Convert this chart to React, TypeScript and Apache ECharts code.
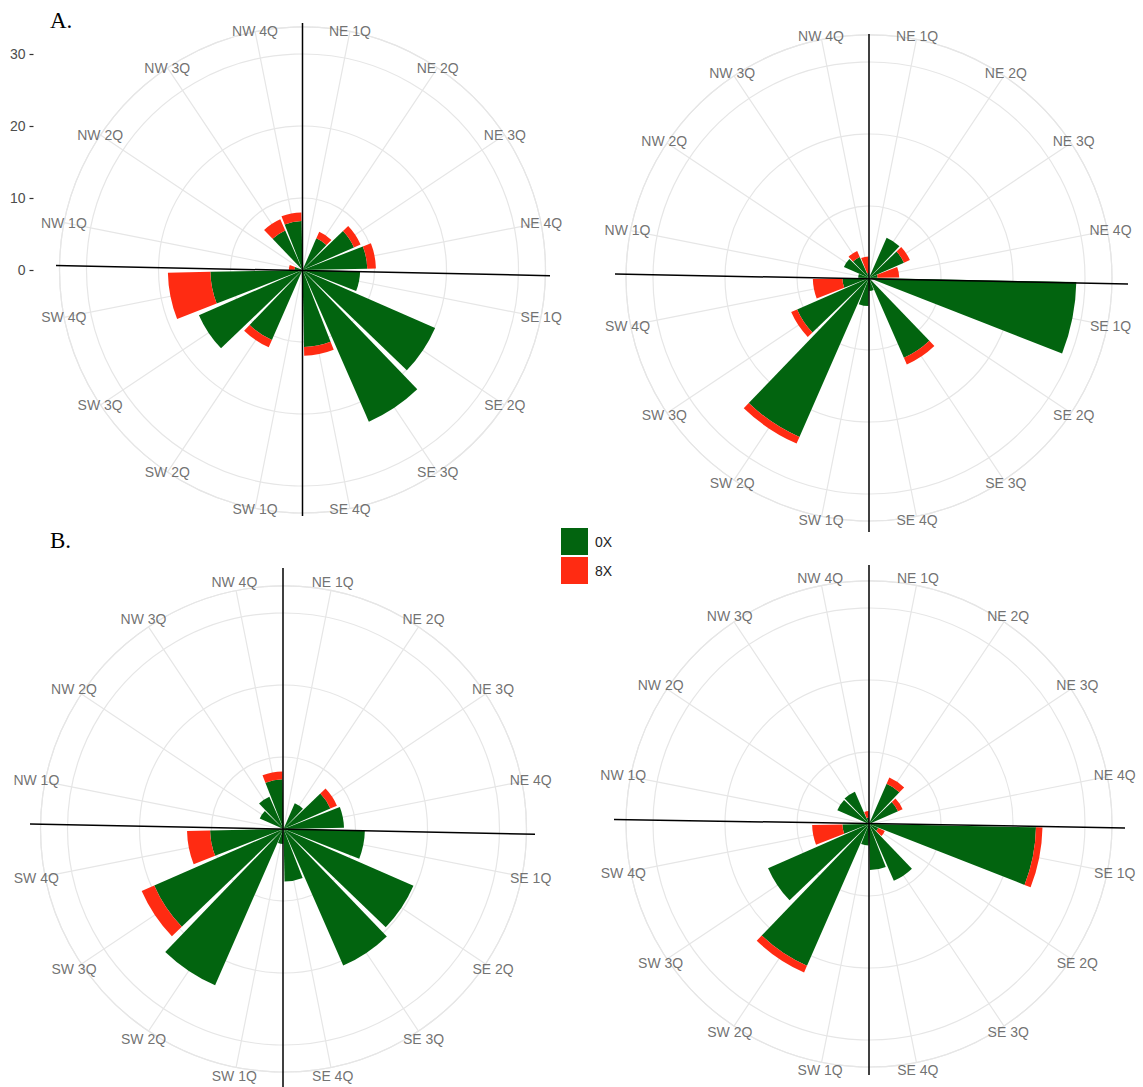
import { useEffect, useRef } from 'react';
import * as echarts from 'echarts';

// Sixteen direction/quarter sectors, clockwise from north
const CATEGORIES = [
  'NE 1Q', 'NE 2Q', 'NE 3Q', 'NE 4Q',
  'SE 1Q', 'SE 2Q', 'SE 3Q', 'SE 4Q',
  'SW 1Q', 'SW 2Q', 'SW 3Q', 'SW 4Q',
  'NW 1Q', 'NW 2Q', 'NW 3Q', 'NW 4Q',
];
const GROUPS = ['0X', '8X'];

// Radial scale (counts)
const R_MAX = 30;
const R_STEP = 10;

// Panel A, left rose
const A1_0X = [0, 4.8, 7.8, 9.0, 8.0, 20.1, 23.0, 10.7, 0, 10.6, 15.7, 12.8, 1.1, 0, 6.0, 6.8];
const A1_8X = [0, 1.0, 1.0, 1.2, 0, 0, 0, 1.2, 0, 1.1, 0, 5.9, 0.8, 0, 1.7, 1.2];
// Panel A, right rose
const A2_0X = [0, 6.1, 5.3, 1.2, 28.8, 0, 12.1, 1.8, 3.9, 24.1, 10.9, 3.7, 1.5, 3.8, 3.2, 0.7];
const A2_8X = [0, 0, 0.9, 3.0, 0, 0, 1.0, 0, 0, 1.0, 0.9, 4.1, 0, 0, 0.9, 2.3];
// Panel B, left rose
const B1_0X = [0, 3.9, 7.1, 8.4, 11.3, 19.7, 20.7, 7.3, 2.1, 23.7, 19.6, 10.2, 0, 3.6, 4.9, 6.9];
const B1_8X = [0, 0, 1.0, 0, 0, 0, 0, 0, 0, 0, 1.9, 3.2, 0, 0, 0, 1.1];
// Panel B, right rose
const B2_0X = [0, 6.1, 4.4, 0, 23.2, 1.4, 8.6, 6.4, 3.0, 21.5, 15.3, 3.7, 0, 4.8, 4.9, 0.9];
const B2_8X = [0, 0.95, 0.7, 0, 0.9, 1.0, 0, 0, 0, 1.0, 0, 4.2, 0, 0, 0, 0.9];

const GREEN = '#02640f';
const RED = '#ff2b12';
const GRID = '#e6e6e6';
const TEXT = '#4d4d4d';
const SANS = '"Liberation Sans", Arial, sans-serif';

// Outer ring sits 12.5% beyond the top of the radial scale
const OUTER_VAL = R_MAX * 1.125;
const PX_PER_UNIT = 7.2;
const OUTER_PX = OUTER_VAL * PX_PER_UNIT;

const PANELS = [
  { zero: A1_0X, eight: A1_8X, cx: 302.5, cy: 270, labelR: 33.8,
    v: [302.5, 23, 302.5, 516], h: [56, 265.5, 550, 275.7] },
  { zero: A2_0X, eight: A2_8X, cx: 869, cy: 278, labelR: 34.2,
    v: [869, 34, 869, 532], h: [615, 274, 1128, 284] },
  { zero: B1_0X, eight: B1_8X, cx: 283.5, cy: 829, labelR: 35.0,
    v: [283, 568, 283, 1087], h: [30, 824, 535, 834.3] },
  { zero: B2_0X, eight: B2_8X, cx: 869, cy: 824, labelR: 34.8,
    v: [869, 565, 869, 1075], h: [614, 819.4, 1125, 827.9] },
];

function buildOption() {
  const polar: any[] = [];
  const angleAxis: any[] = [];
  const radiusAxis: any[] = [];
  const series: any[] = [];
  const graphic: any[] = [];

  PANELS.forEach((p, i) => {
    const gridIdx = i * 2;
    const barIdx = i * 2 + 1;
    polar.push({ center: [p.cx, p.cy], radius: OUTER_PX });
    polar.push({ center: [p.cx, p.cy], radius: OUTER_PX });

    // background polar: spokes through sector centres and rings
    angleAxis.push({
      polarIndex: gridIdx,
      type: 'value',
      min: 0,
      max: 360,
      interval: 360 / CATEGORIES.length,
      startAngle: 90 - 360 / CATEGORIES.length / 2,
      clockwise: true,
      axisLine: { show: true, lineStyle: { color: GRID, width: 1.2 } },
      axisTick: { show: false },
      axisLabel: { show: false },
      splitLine: { show: true, lineStyle: { color: GRID, width: 1.2 } },
    });
    radiusAxis.push({
      polarIndex: gridIdx,
      type: 'value',
      min: 0,
      max: OUTER_VAL,
      interval: R_STEP,
      axisLine: { show: false },
      axisTick: { show: false },
      axisLabel: { show: false },
      splitLine: { show: true, lineStyle: { color: GRID, width: 1.2 } },
    });

    // bar polar: one band per sector
    angleAxis.push({
      polarIndex: barIdx,
      type: 'category',
      data: CATEGORIES,
      startAngle: 90,
      clockwise: true,
      boundaryGap: true,
      axisLine: { show: false },
      axisTick: { show: false },
      axisLabel: { show: false },
      splitLine: { show: false },
    });
    radiusAxis.push({
      polarIndex: barIdx,
      type: 'value',
      min: 0,
      max: OUTER_VAL,
      axisLine: { show: false },
      axisTick: { show: false },
      axisLabel: { show: false },
      splitLine: { show: false },
    });

    series.push({
      type: 'bar',
      name: GROUPS[0],
      coordinateSystem: 'polar',
      polarIndex: barIdx,
      stack: 'rose' + i,
      barCategoryGap: '10%',
      data: p.zero,
      itemStyle: { color: GREEN },
      silent: true,
      z: 2,
    });
    series.push({
      type: 'bar',
      name: GROUPS[1],
      coordinateSystem: 'polar',
      polarIndex: barIdx,
      stack: 'rose' + i,
      barCategoryGap: '10%',
      data: p.eight,
      itemStyle: { color: RED },
      silent: true,
      z: 2,
    });
    // sector names centred on the outer ring
    series.push({
      type: 'scatter',
      coordinateSystem: 'polar',
      polarIndex: barIdx,
      symbolSize: 1,
      clip: false,
      itemStyle: { color: 'rgba(0,0,0,0)' },
      silent: true,
      z: 3,
      data: CATEGORIES.map((_, k) => [p.labelR, k]),
      label: {
        show: true,
        position: 'inside',
        formatter: (q: any) => CATEGORIES[q.dataIndex],
        color: TEXT,
        fontSize: 14,
        fontFamily: SANS,
      },
      labelLayout: { hideOverlap: false },
    });

    // black reference cross over each rose
    graphic.push({
      type: 'line', z: 100, silent: true,
      shape: { x1: p.v[0], y1: p.v[1], x2: p.v[2], y2: p.v[3] },
      style: { stroke: '#000', lineWidth: 1.5 },
    });
    graphic.push({
      type: 'line', z: 100, silent: true,
      shape: { x1: p.h[0], y1: p.h[1], x2: p.h[2], y2: p.h[3] },
      style: { stroke: '#000', lineWidth: 1.5 },
    });
  });

  graphic.push({
    type: 'text', x: 50, y: 20.5, z: 100,
    style: { text: 'A.', font: '23px "Liberation Serif", "Times New Roman", serif', fill: '#000', verticalAlign: 'middle' },
  });
  graphic.push({
    type: 'text', x: 50, y: 540, z: 100,
    style: { text: 'B.', font: '23px "Liberation Serif", "Times New Roman", serif', fill: '#000', verticalAlign: 'middle' },
  });

  return {
    animation: false,
    backgroundColor: '#fff',
    polar,
    angleAxis,
    radiusAxis,
    // radial scale shown once, at the left of panel A
    grid: { left: 33.5, top: 270 - R_MAX * PX_PER_UNIT, width: 10, height: R_MAX * PX_PER_UNIT },
    xAxis: { type: 'value', show: false, min: 0, max: 1 },
    yAxis: {
      type: 'value',
      min: 0,
      max: R_MAX,
      interval: R_STEP,
      axisLine: { show: false },
      axisTick: { show: true, length: 4, lineStyle: { color: '#333', width: 1.2 } },
      axisLabel: { color: TEXT, fontSize: 14, fontFamily: SANS, margin: 8 },
      splitLine: { show: false },
    },
    legend: {
      data: GROUPS,
      left: 556,
      top: 523,
      orient: 'vertical',
      icon: 'rect',
      itemWidth: 27,
      itemHeight: 27,
      itemGap: 2,
      selectedMode: false,
      textStyle: { fontSize: 14, color: '#222', fontFamily: SANS, padding: [0, 0, 0, 2] },
    },
    series,
    graphic,
  };
}

export default function App() {
  const ref = useRef<HTMLDivElement>(null);
  useEffect(() => {
    if (!ref.current) return;
    const chart = echarts.init(ref.current, null, { renderer: 'svg' });
    chart.setOption(buildOption() as any);
    return () => chart.dispose();
  }, []);
  return (
    <div
      ref={ref}
      style={{ position: 'absolute', left: 0, top: 0, width: 1143, height: 1087, background: '#fff' }}
    />
  );
}
